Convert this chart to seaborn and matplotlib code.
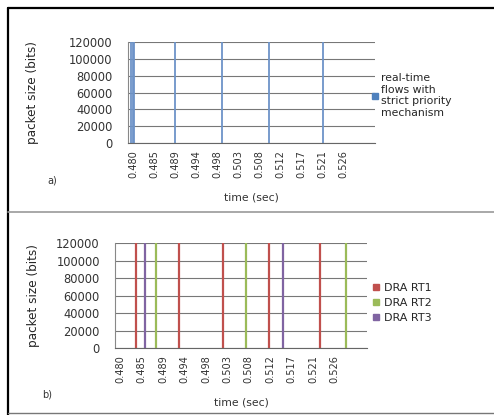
import matplotlib
matplotlib.use("Agg")
import matplotlib.pyplot as plt
from matplotlib.lines import Line2D
import seaborn as sns
import pandas as pd

# valores
tick_pos = [0.4800, 0.4846, 0.4892, 0.4938, 0.4984, 0.5030, 0.5076, 0.5122, 0.5168, 0.5214, 0.5260]
tick_labels = ["0.480", "0.485", "0.489", "0.494", "0.498", "0.503", "0.508", "0.512", "0.517", "0.521", "0.526"]
y_ticks = [0, 20000, 40000, 60000, 80000, 100000, 120000]

# panel a) flujos tiempo real con prioridad estricta
spikes_a = [0.4795, 0.4799, 0.4803, 0.4891, 0.4995, 0.5097, 0.5217]
height_a = [120000, 120000, 120000, 120000, 120000, 120000, 120000]

# panel b) DRA
spikes_b = [0.4833, 0.4854, 0.4876, 0.4926, 0.5021, 0.5070, 0.5119, 0.5150, 0.5229, 0.5285]
height_b = [120000, 120000, 120000, 120000, 120000, 120000, 120000, 120000, 120000, 120000]
series_b = ["DRA RT1", "DRA RT3", "DRA RT2", "DRA RT1", "DRA RT1", "DRA RT2", "DRA RT1", "DRA RT3", "DRA RT1", "DRA RT2"]

label_a = "real-time\nflows with\nstrict priority\nmechanism"
colores_b = {"DRA RT1": "#C0504D", "DRA RT2": "#9BBB59", "DRA RT3": "#8064A2"}


def segmentos(tiempos, alturas, series):
    filas = []
    for i, (t, h, s) in enumerate(zip(tiempos, alturas, series)):
        filas.append({"t": t, "size": 0, "serie": s, "id": i})
        filas.append({"t": t, "size": h, "serie": s, "id": i})
    return pd.DataFrame(filas)


def formato_ejes(ax, xlab):
    ax.set_xlim(0.4789, 0.5330)
    ax.set_ylim(0, 120000)
    ax.set_yticks(y_ticks)
    ax.set_yticklabels([str(v) for v in y_ticks], fontsize=8.3, color="#333333")
    ax.set_xticks(tick_pos)
    ax.set_xticklabels(tick_labels, rotation=90, fontsize=7.8, color="#333333",
                       family="DejaVu Sans", stretch="condensed")
    ax.tick_params(axis="y", length=4, color="#777777", pad=7)
    ax.tick_params(axis="x", length=0, pad=5)
    ax.grid(axis="y", color="#777777", linewidth=0.8)
    ax.grid(axis="x", visible=False)
    for lado in ["top", "right"]:
        ax.spines[lado].set_visible(False)
    ax.spines["left"].set_color("#888888")
    ax.spines["bottom"].set_color("#666666")
    ax.set_ylabel("packet size (bits)", fontsize=9.6, family="DejaVu Sans",
                  stretch="condensed")
    ax.set_xlabel("time (sec)", fontsize=7.8, color="#333333", labelpad=10)
    ax.yaxis.set_label_coords(xlab, 0.5)


sns.set_style("white")
fig = plt.figure(figsize=(4.94, 4.15), dpi=100)

# panel superior
ax1 = fig.add_axes([0.259, 0.655, 0.50, 0.244])
df_a = segmentos(spikes_a, height_a, [label_a] * len(spikes_a))
sns.lineplot(data=df_a, x="t", y="size", hue="serie", units="id", estimator=None,
             sort=False, palette={label_a: "#6D93C8"}, linewidth=1.3, ax=ax1)
formato_ejes(ax1, -0.36)
h = [Line2D([], [], marker="s", linestyle="none", color="#4F81BD", markersize=4)]
ax1.legend(h, [label_a], loc="center left", bbox_to_anchor=(0.965, 0.47), frameon=False,
           fontsize=7.8, handletextpad=0.2, handlelength=0.8, borderaxespad=0,
           labelspacing=0.2)

# panel inferior
ax2 = fig.add_axes([0.233, 0.161, 0.51, 0.253])
df_b = segmentos(spikes_b, height_b, series_b)
sns.lineplot(data=df_b, x="t", y="size", hue="serie", units="id", estimator=None,
             sort=False, palette=colores_b, linewidth=1.6, ax=ax2)
formato_ejes(ax2, -0.30)
hb = [Line2D([], [], marker="s", linestyle="none", color=colores_b[k], markersize=4.5)
      for k in ["DRA RT1", "DRA RT2", "DRA RT3"]]
ax2.legend(hb, ["DRA RT1", "DRA RT2", "DRA RT3"], loc="center left",
           bbox_to_anchor=(1.0, 0.43), frameon=False, fontsize=8,
           handletextpad=0.3, handlelength=0.8, labelspacing=0.45, borderaxespad=0)

fig.text(47 / 494, 1 - 183 / 415, "a)", fontsize=7, color="#333333")
fig.text(42 / 494, 1 - 397 / 415, "b)", fontsize=7, color="#333333")

# marcos de la figura
fig.add_artist(Line2D([8 / 494, 8 / 494], [0, 1 - 8 / 415], color="black", linewidth=1.6))
fig.add_artist(Line2D([8 / 494, 1], [1 - 8 / 415, 1 - 8 / 415], color="black", linewidth=1.6))
fig.add_artist(Line2D([8 / 494, 1], [1 - 212 / 415, 1 - 212 / 415], color="#999999", linewidth=1.2))
fig.add_artist(Line2D([8 / 494, 1], [1 - 413 / 415, 1 - 413 / 415], color="#777777", linewidth=1.0))

fig.savefig("out.png", dpi=100)
